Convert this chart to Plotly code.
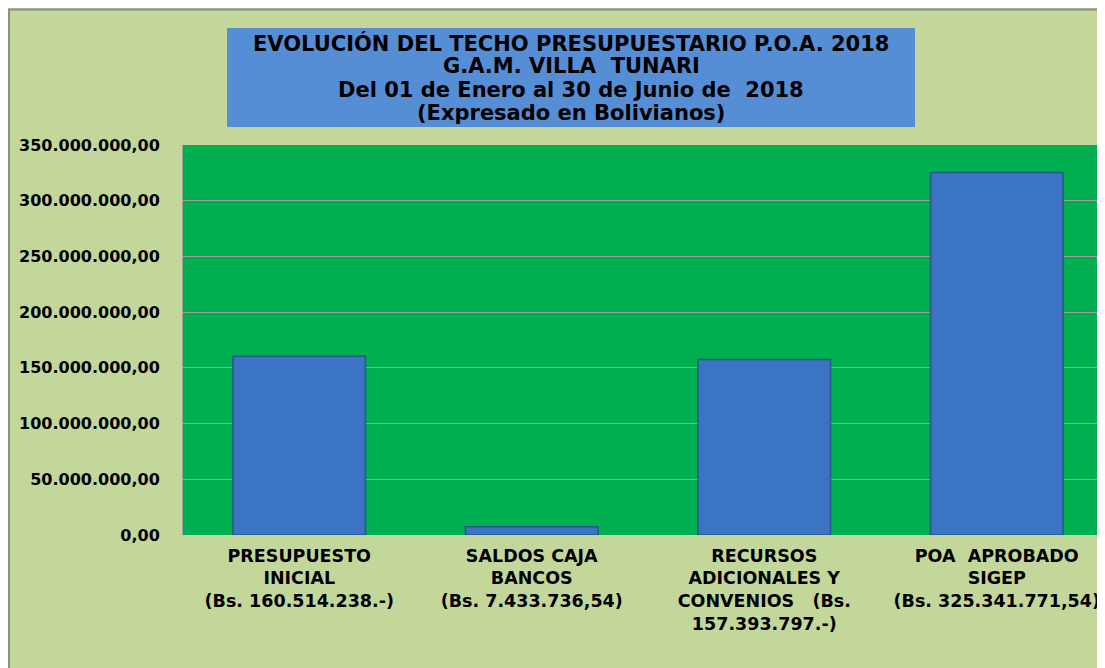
import plotly.graph_objects as go

categories = [
    "PRESUPUESTO<br>INICIAL<br>(Bs. 160.514.238.-)",
    "SALDOS CAJA<br>BANCOS<br>(Bs. 7.433.736,54)",
    "RECURSOS<br>ADICIONALES Y<br>CONVENIOS   (Bs.<br>157.393.797.-)",
    "POA  APROBADO<br>SIGEP<br>(Bs. 325.341.771,54)",
]
values = [160514238.00, 7433736.54, 157393797.00, 325341771.54]
title_lines = [
    "EVOLUCIÓN DEL TECHO PRESUPUESTARIO P.O.A. 2018",
    "G.A.M. VILLA  TUNARI",
    "Del 01 de Enero al 30 de Junio de  2018",
    "(Expresado en Bolivianos)",
]
y_ticks = [0, 50e6, 100e6, 150e6, 200e6, 250e6, 300e6, 350e6]

# page body margin offset (screen px -> figure px)
O = 8
W, H = 1105, 668
L, R, T = 183 - O, 0, 145 - O
B = H - (535 - O)
PW, PH = W - L - R, H - T - B


def px(xs):
    """screen x pixel -> paper coordinate"""
    return (xs - O - L) / PW


def py(ys):
    """screen y pixel -> paper coordinate"""
    return (H - B - (ys - O)) / PH


FONT = "DejaVu Sans"

fig = go.Figure()
fig.add_trace(go.Bar(
    x=categories, y=values, width=0.57,
    marker=dict(color="#3A74C2", line=dict(color="#2A568C", width=1.5)),
    hoverinfo="y",
))

shapes = [
    # gray border of chart area (top and left)
    dict(type="line", xref="paper", yref="paper", x0=px(8), x1=px(W + 20), y0=py(9.5), y1=py(9.5),
         line=dict(color="#8C8C8C", width=2)),
    dict(type="line", xref="paper", yref="paper", x0=px(9), x1=px(9), y0=py(9), y1=py(H + 20),
         line=dict(color="#8C8C8C", width=2)),
    # title box
    dict(type="rect", xref="paper", yref="paper", x0=px(227), x1=px(915), y0=py(28), y1=py(127),
         fillcolor="#558ED5", line=dict(width=0)),
]

line_y = [43, 66, 89.5, 113]
for txt, yy in zip(title_lines, line_y):
    fig.add_annotation(
        xref="paper", yref="paper", x=px(571), y=py(yy), xanchor="center", yanchor="middle",
        text="<b>%s</b>" % txt, showarrow=False,
        font=dict(family=FONT, size=21, color="black"), align="center",
    )

fig.update_layout(
    width=W, height=H,
    margin=dict(l=L, r=R, t=T, b=B, autoexpand=False),
    paper_bgcolor="#C4D79B",
    plot_bgcolor="#00B050",
    separators=",.",
    shapes=shapes,
    showlegend=False,
    xaxis=dict(
        tickfont=dict(family=FONT, size=17.5, color="black", weight="bold"),
        showgrid=False, showline=False, ticks="",
        ticklabelstandoff=8,
        fixedrange=True,
    ),
    yaxis=dict(
        range=[0, 350e6], tickvals=y_ticks, tickformat=",.2f",
        tickfont=dict(family=FONT, size=16, color="black", weight="bold"),
        showgrid=True, gridcolor="#A0A0A0", gridwidth=1,
        showline=True, linecolor="#A0A0A0", linewidth=1, mirror=True,
        zeroline=False, ticks="", ticklabelstandoff=19,
        fixedrange=True,
    ),
)

fig.write_html("out.html")
